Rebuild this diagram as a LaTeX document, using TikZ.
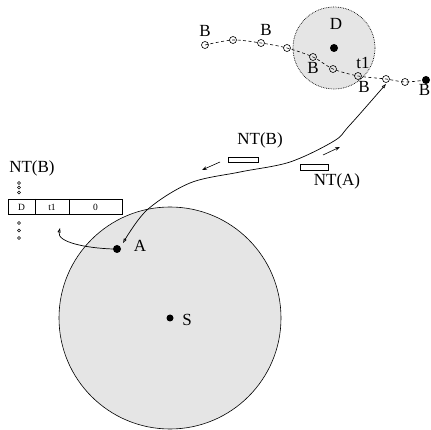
\documentclass[tikz,border=0pt]{standalone}
\usepackage{fontspec}
\setmainfont{Liberation Serif}
\usetikzlibrary{arrows.meta}
\begin{document}
\begin{tikzpicture}[x=1pt,y=-1pt,
  lbl/.style={inner sep=0pt,font=\fontsize{17}{20}\selectfont},
  small/.style={inner sep=0pt,font=\fontsize{9.5}{11}\selectfont},
  opencirc/.style={circle,draw,inner sep=0pt,minimum size=7pt,line width=0.6pt},
  tinycirc/.style={circle,draw,inner sep=0pt,minimum size=3pt,line width=0.5pt},
  bigdot/.style={circle,fill,inner sep=0pt,minimum size=8pt},
  opentip/.style={-{Triangle[open,length=4.5pt,width=3pt]}},
  zone/.style={fill=black!10}]
\useasboundingbox (0,0) rectangle (431,430);
% zones
\draw[zone,line width=0.6pt] (170,318) circle[radius=111pt];
\draw[zone,densely dotted,line width=0.7pt] (334,48) circle[radius=41pt];
% path points
\coordinate (c1) at (205,45);
\coordinate (c2) at (233,40);
\coordinate (c3) at (261,43);
\coordinate (c4) at (287,48);
\coordinate (c5) at (313,57);
\coordinate (c6) at (333,69);
\coordinate (c7) at (358,76);
\coordinate (c8) at (386,79);
\coordinate (c9) at (405,82);
\coordinate (c10) at (426,80);
\draw[dashed,dash pattern=on 3pt off 2.5pt,line width=0.6pt] plot[smooth,tension=0.5] coordinates {(c1) (c2) (c3) (c4) (c5) (c6) (c7) (c8) (c9) (c10)};
\foreach \i in {1,...,9} \node[opencirc] (p\i) at (c\i) {};
\node[bigdot] (pb) at (c10) {};
% dots
\node[bigdot] (D) at (334,48) {};
\node[bigdot,minimum size=7pt] (S) at (170,318) {};
\node[bigdot] (A) at (117,249) {};
% labels
\node[lbl] (lD) at (336,24) {D};
\node[lbl] (lS) at (187,320) {S};
\node[lbl] (lA) at (140,246) {A};
\node[lbl] (b1) at (205,31) {B};
\node[lbl] (b2) at (266,30) {B};
\node[lbl] (b3) at (313,68) {B};
\node[lbl] (b4) at (364,87) {B};
\node[lbl] (b5) at (424.5,90) {B};
\node[lbl] (t1) at (363,63) {t1};
\node[lbl] (ntb) at (260,140) {NT(B)};
\node[lbl] (nta) at (337,181) {NT(A)};
\node[lbl] (ntb2) at (32,168) {NT(B)};
% message boxes
\draw[line width=0.6pt,fill=white] (228,157) rectangle (258,162);
\draw[line width=0.6pt,fill=white] (300,164.5) rectangle (328,170);
\coordinate (ab1) at (220,162);
\coordinate (ab2) at (202,170);
\coordinate (aa1) at (323,155);
\coordinate (aa2) at (340,147);
\draw[-{Stealth[length=5pt,width=3.5pt]},line width=0.6pt] (ab1) -- (ab2);
\draw[-{Stealth[length=5pt,width=3.5pt]},line width=0.6pt] (aa1) -- (aa2);
% route curve
\coordinate (r1) at (386,84);
\coordinate (r2) at (349,126);
\coordinate (r3) at (334,141);
\coordinate (r4) at (290,162);
\coordinate (r5) at (240,172);
\coordinate (r6) at (190,183);
\coordinate (r7) at (147,210);
\coordinate (r8) at (123,243);
\draw[{Triangle[open,length=4.5pt,width=3pt]}-{Triangle[open,length=4.5pt,width=3pt]},line width=0.7pt]
  plot[smooth,tension=0.55] coordinates {(r1) (r2) (r3) (r4) (r5) (r6) (r7) (r8)};
% local curve
\coordinate (lt) at (60,228);
\draw[opentip,line width=0.7pt] (A.west) .. controls (85,248) and (57,242) .. (lt);
% table
\draw[line width=0.6pt] (8,199) rectangle (122,214);
\draw[line width=0.6pt] (35,199) -- (35,214) (69,199) -- (69,214);
\node[small] (tD) at (21.5,207) {D};
\node[small] (tt) at (52,207) {t1};
\node[small] (t0) at (95.5,207) {0};
\foreach \y/\n in {183/u1,187.5/u2,192.5/u3,223/d1,230.5/d2,238/d3} \node[tinycirc] (\n) at (19,\y) {};
\end{tikzpicture}
\end{document}
